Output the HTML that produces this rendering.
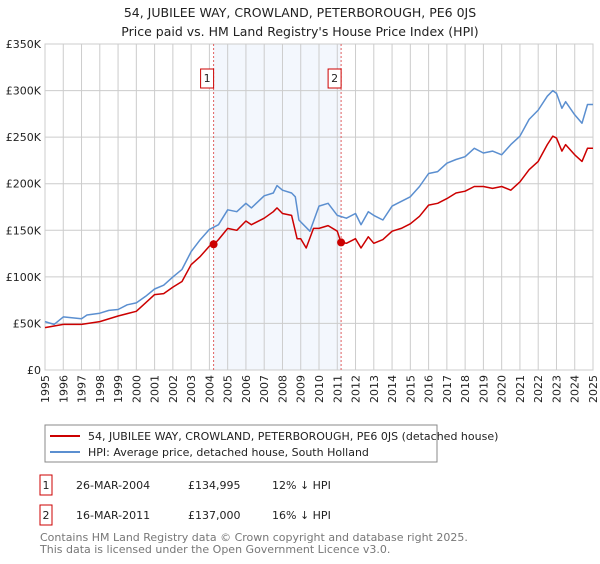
<!DOCTYPE html>
<html><head><meta charset="utf-8"><style>
body{margin:0;background:#fff;font-family:"DejaVu Sans","Liberation Sans",sans-serif;}
svg text{font-family:"DejaVu Sans","Liberation Sans",sans-serif;}
</style></head><body>
<svg id="c" width="600" height="560" xmlns="http://www.w3.org/2000/svg">
<text x="300" y="17" text-anchor="middle" font-size="12.5" fill="#222">54, JUBILEE WAY, CROWLAND, PETERBOROUGH, PE6 0JS</text>
<text x="300" y="36" text-anchor="middle" font-size="12.5" fill="#222">Price paid vs. HM Land Registry's House Price Index (HPI)</text>
<g id="plot"></g>
<rect x="45" y="425" width="392" height="37" fill="#fff" stroke="#888"/>
<line x1="50" y1="436" x2="80" y2="436" stroke="#cc0000" stroke-width="2"/>
<text x="88" y="440" font-size="11" fill="#222">54, JUBILEE WAY, CROWLAND, PETERBOROUGH, PE6 0JS (detached house)</text>
<line x1="50" y1="452" x2="80" y2="452" stroke="#5b8fd0" stroke-width="2"/>
<text x="88" y="456" font-size="11" fill="#222">HPI: Average price, detached house, South Holland</text>
<g font-size="11" fill="#222">
<rect x="40" y="475" width="12" height="20" fill="#fff" stroke="#cc0000"/>
<text x="46" y="489" text-anchor="middle">1</text>
<text x="76" y="489">26-MAR-2004</text><text x="188" y="489">£134,995</text><text x="272" y="489">12% ↓ HPI</text>
<rect x="40" y="505" width="12" height="20" fill="#fff" stroke="#cc0000"/>
<text x="46" y="519" text-anchor="middle">2</text>
<text x="76" y="519">16-MAR-2011</text><text x="188" y="519">£137,000</text><text x="272" y="519">16% ↓ HPI</text>
</g>
<text x="40" y="541" font-size="11" fill="#777">Contains HM Land Registry data © Crown copyright and database right 2025.</text>
<text x="40" y="553" font-size="11" fill="#777">This data is licensed under the Open Government Licence v3.0.</text>
</svg>
<script>
const hpiYears=[1995,1995.5,1996,1997,1997.3,1998,1998.5,1999,1999.5,2000,2000.5,2001,2001.5,2002,2002.5,2003,2003.5,2004,2004.5,2005,2005.5,2006,2006.3,2007,2007.5,2007.7,2008,2008.5,2008.7,2008.9,2009,2009.5,2010,2010.5,2011,2011.5,2012,2012.3,2012.7,2013,2013.5,2014,2014.5,2015,2015.5,2016,2016.5,2017,2017.5,2018,2018.5,2019,2019.5,2020,2020.5,2021,2021.5,2022,2022.5,2022.8,2023,2023.3,2023.5,2024,2024.4,2024.7,2025];
const hpiValues=[52,49,57,55,59,61,64,65,70,72,79,87,91,100,108,127,140,151,156,172,170,179,174,187,190,198,193,190,186,161,159,149,176,179,166,163,168,156,170,166,161,176,181,186,197,211,213,222,226,229,238,233,235,231,242,251,269,279,294,300,297,281,288,274,265,285,285];
const propYears=[1995,1996,1997,1998,1999,2000,2000.5,2001,2001.5,2002,2002.5,2003,2003.5,2004,2004.25,2004.5,2005,2005.5,2006,2006.3,2007,2007.5,2007.7,2008,2008.5,2008.8,2009,2009.3,2009.7,2010,2010.5,2011,2011.2,2011.5,2012,2012.3,2012.7,2013,2013.5,2014,2014.5,2015,2015.5,2016,2016.5,2017,2017.5,2018,2018.5,2019,2019.5,2020,2020.5,2021,2021.5,2022,2022.5,2022.8,2023,2023.3,2023.5,2024,2024.4,2024.7,2025];
const propValues=[45.5,49,49,52,58,63,72,81,82,89,95,113,122,133,135,140,152,150,160,156,163,170,174,168,166,141,141,131,152,152,155,149,137,136,141,131,143,136,140,149,152,157,165,177,179,184,190,192,197,197,195,197,193,202,215,224,242,251,249,235,242,231,224,238,238];
const saleYears=[2004.23,2011.21];
const saleValues=[134.995,137];
const saleLabels=["1","2"];
const yTicks=[0,50,100,150,200,250,300,350];
const yTickLabels=["£0","£50K","£100K","£150K","£200K","£250K","£300K","£350K"];
const xTicks=[1995,1996,1997,1998,1999,2000,2001,2002,2003,2004,2005,2006,2007,2008,2009,2010,2011,2012,2013,2014,2015,2016,2017,2018,2019,2020,2021,2022,2023,2024,2025];

const NS="http://www.w3.org/2000/svg";
const L=45,R=593,T=44,B=370;
const xs=y=>L+(y-1995)/30*(R-L);
const ys=v=>B-v/350*(B-T);
const g=document.getElementById('plot');
function mk(tag,attrs){const e=document.createElementNS(NS,tag);for(const k in attrs)e.setAttribute(k,attrs[k]);g.appendChild(e);return e;}
let e=mk('rect',{x:xs(saleYears[0]),y:T,width:xs(saleYears[1])-xs(saleYears[0]),height:B-T,fill:'#eef3fc',opacity:0.7});


xTicks.forEach(t=>{
 let l=mk('line',{x1:xs(t),x2:xs(t),y1:T,y2:B,stroke:'#ccc','stroke-width':1});
 
 
 let tx=mk('text',{x:0,y:0,'font-size':11,fill:'#222','text-anchor':'end',transform:`translate(${xs(t)+4},${B+5}) rotate(-90)`});
 tx.textContent=t;
 
 
});
yTicks.forEach((t,i)=>{
 let l=mk('line',{x1:L,x2:R,y1:ys(t),y2:ys(t),stroke:'#ccc','stroke-width':1});
 
 
 let tx=mk('text',{x:L-4,y:ys(t)+4,'font-size':11,fill:'#222','text-anchor':'end'});
 tx.textContent=yTickLabels[i];
 
 
});
e=mk('rect',{x:L,y:T,width:R-L,height:B-T,fill:'none',stroke:'#ccc'});


saleYears.forEach((s,i)=>{
 let l=mk('line',{x1:xs(s),x2:xs(s),y1:T,y2:B,stroke:'#e06060','stroke-width':1,'stroke-dasharray':'2,2'});
 
 
 let r=mk('rect',{x:xs(s)-13,y:69,width:13,height:19,fill:'#fff',stroke:'#cc0000'});
 
 
 let t=mk('text',{x:xs(s)-6.5,y:82,'font-size':11,fill:'#222','text-anchor':'middle'});
 t.textContent=saleLabels[i];
 
 
});
function line(xsA,vs,col,name){
 let p=mk('polyline',{points:xsA.map((y,i)=>xs(y).toFixed(1)+','+ys(vs[i]).toFixed(1)).join(' '),fill:'none',stroke:col,'stroke-width':1.5,'stroke-linejoin':'round'});
 
 
}
line(hpiYears,hpiValues,'#5b8fd0','hpi-line');
line(propYears,propValues,'#cc0000','property-price-line');
saleYears.forEach((s,i)=>{
 let c=mk('circle',{cx:xs(s),cy:ys(saleValues[i]),r:4,fill:'#cc0000'});
 
 
});
</script>
</body></html>
